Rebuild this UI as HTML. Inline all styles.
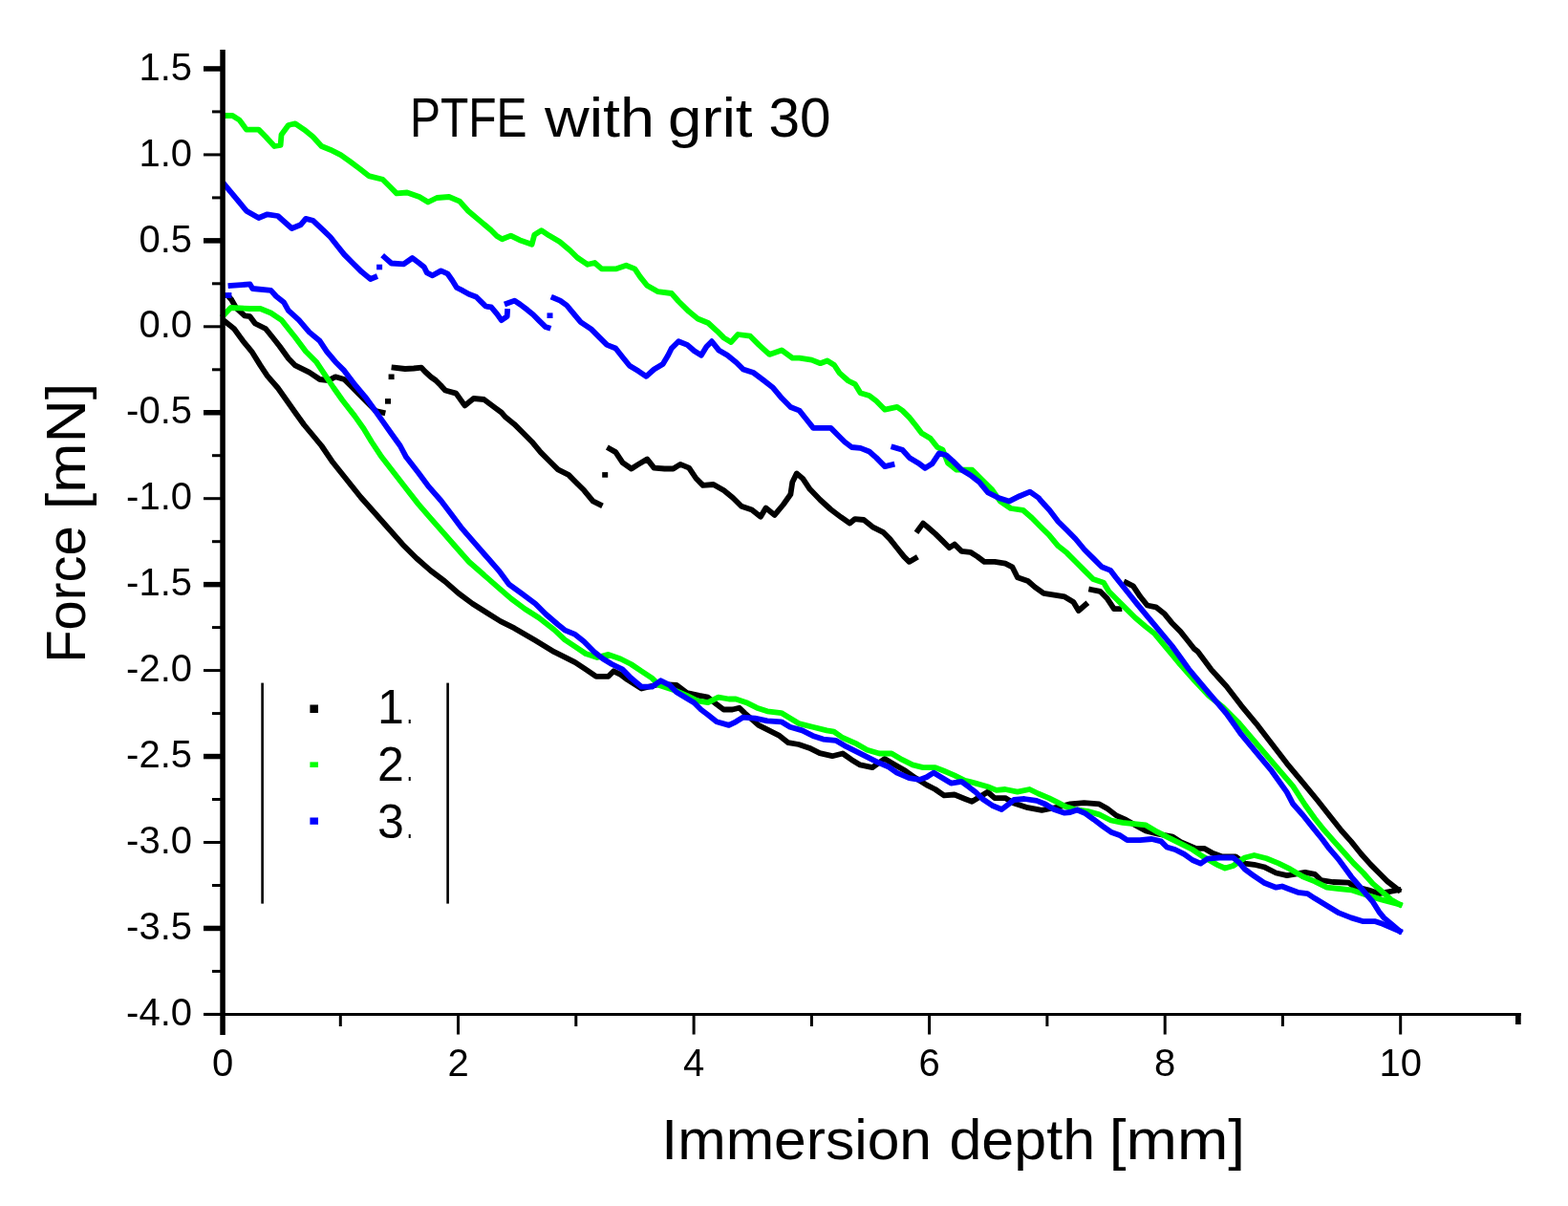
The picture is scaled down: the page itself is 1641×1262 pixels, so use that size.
<!DOCTYPE html><html><head><meta charset="utf-8"><style>html,body{margin:0;padding:0;background:#fff;}svg{display:block;}text{font-family:"Liberation Sans",Arial,sans-serif;fill:#000;}</style></head><body>
<svg width="1641" height="1262" viewBox="0 0 1641 1262">
<rect width="1641" height="1262" fill="#fff"/>
<g>
<polyline points="235.0,336.0 245.0,344.0 254.3,356.8 263.4,367.8 272.5,382.4 279.8,393.3 290.8,406.0 300.0,419.0 309.0,431.7 318.2,444.5 327.4,455.5 336.5,466.5 348.3,483.8 362.9,502.0 377.5,520.3 392.2,536.8 406.8,553.2 421.4,569.7 436.0,584.3 450.7,597.1 465.3,608.1 479.9,620.9 494.5,631.8 509.2,641.0 523.8,650.1 538.4,657.4 560.0,670.0 580.0,682.2 591.0,687.6 601.9,693.1 612.9,700.4 623.9,707.8 636.7,707.8 642.2,702.3 649.5,705.9 656.8,711.4 671.4,720.5 690.0,716.0 708.0,716.9 718.9,725.1 731.7,727.9 740.9,729.7 750.0,737.0 757.3,742.5 766.5,742.5 773.8,740.7 779.3,746.1 793.9,758.9 804.9,764.4 815.8,769.9 825.0,777.2 835.9,779.0 846.9,782.7 857.9,788.2 871.0,791.2 881.9,788.5 891.1,794.9 900.2,800.4 913.0,803.1 925.8,794.0 936.8,800.4 947.8,806.8 958.0,814.0 969.7,821.4 978.8,826.0 988.0,832.4 998.9,831.5 1009.9,836.0 1017.2,838.8 1025.0,834.0 1033.7,828.7 1041.0,835.1 1052.0,835.1 1061.1,840.6 1075.7,845.2 1090.3,847.9 1110.0,844.0 1120.0,841.4 1134.6,840.2 1150.5,841.4 1159.0,846.3 1168.8,853.7 1178.5,858.0 1190.0,864.5 1199.2,869.5 1211.0,872.5 1227.3,875.6 1235.8,881.1 1251.6,887.8 1260.2,887.8 1268.7,892.6 1278.4,896.3 1293.1,896.3 1302.8,903.6 1312.6,904.8 1322.8,907.2 1335.5,913.5 1346.9,916.1 1365.9,912.9 1376.0,914.8 1382.4,921.1 1395.1,923.0 1411.5,923.7 1416.6,927.5 1431.8,931.3 1443.2,935.1 1463.5,931.3" fill="none" stroke="#000" stroke-width="5.8" stroke-linejoin="round" stroke-linecap="square"/>
<polyline points="239.0,310.0 242.4,313.8 247.0,322.0 256.0,330.3 261.6,331.2 267.0,338.5 278.0,344.0 285.3,353.0 292.6,362.3 301.8,375.0 309.0,382.4 323.7,389.7 334.7,397.0 343.8,398.0 351.0,394.3 360.3,397.0 367.6,404.3 375.0,411.6 384.0,420.8 393.2,430.0 400.5,431.7" fill="none" stroke="#000" stroke-width="5.8" stroke-linejoin="round" stroke-linecap="square"/>
<rect x="403.0" y="417.1" width="6" height="5.6" fill="#000"/>
<rect x="406.6" y="391.5" width="6" height="5.6" fill="#000"/>
<polyline points="412.5,384.7 424.0,386.0 433.0,385.5 441.0,384.7 445.0,389.0 451.0,394.5 456.0,398.0 461.0,403.0 466.0,408.5 477.3,411.6 486.4,424.4 495.6,417.0 506.5,418.0 517.5,426.3 524.8,431.7 529.1,436.6 538.3,443.9 547.4,453.0 556.6,462.2 565.7,473.1 574.8,482.3 584.0,491.4 595.0,496.9 602.3,504.2 611.4,513.3 620.5,524.3 627.9,528.0" fill="none" stroke="#000" stroke-width="5.8" stroke-linejoin="round" stroke-linecap="square"/>
<rect x="630.2" y="494.1" width="6" height="5.6" fill="#000"/>
<polyline points="637.9,469.5 644.3,473.1 651.6,484.1 660.8,490.5 668.1,485.9 677.2,480.4 684.5,489.6 695.5,490.5 704.6,490.5 712.0,485.9 721.1,489.6 728.4,500.5 735.7,507.9 746.7,507.0 757.7,513.3 766.8,520.7 775.9,529.8 786.9,533.5 796.0,540.8 801.5,531.6 810.7,538.9 819.8,528.0 827.4,517.3 829.3,504.5 833.8,495.4 840.2,500.9 847.5,511.8 858.3,523.0 869.3,533.0 880.2,541.2 889.4,547.6 894.8,543.1 904.0,544.0 913.1,551.3 924.1,556.8 931.4,564.1 938.7,573.2 946.0,582.4 951.5,587.9 957.9,584.2" fill="none" stroke="#000" stroke-width="5.8" stroke-linejoin="round" stroke-linecap="square"/>
<polyline points="960.7,555.0 966.1,547.6 971.6,552.2 978.9,558.6 986.3,565.9 993.6,573.2 999.0,569.6 1006.4,576.9 1015.5,577.8 1022.8,582.4 1030.1,587.9 1041.1,587.9 1052.1,589.7 1059.4,593.3 1064.9,604.3 1075.8,608.0 1083.1,614.4 1092.3,620.8 1103.3,622.6 1114.2,624.4 1123.4,629.9 1128.8,639.0 1136.2,632.7" fill="none" stroke="#000" stroke-width="5.8" stroke-linejoin="round" stroke-linecap="square"/>
<polyline points="1142.2,617.0 1151.3,618.8 1158.6,626.1 1165.9,637.1 1171.4,637.1" fill="none" stroke="#000" stroke-width="5.8" stroke-linejoin="round" stroke-linecap="square"/>
<polyline points="1178.7,609.7 1186.0,613.3 1193.3,624.3 1200.7,633.5 1209.8,635.3 1218.9,642.6 1226.3,651.7 1235.4,660.9 1242.7,670.0 1250.0,679.2 1253.3,681.6 1267.5,700.6 1283.4,718.0 1299.2,738.6 1315.0,757.6 1330.9,778.2 1346.7,798.8 1362.6,817.8 1378.4,837.0 1393.8,856.5 1403.9,869.2 1414.1,880.6 1424.2,893.2 1434.4,904.6 1444.5,914.8 1452.1,922.4 1463.5,931.3" fill="none" stroke="#000" stroke-width="5.8" stroke-linejoin="round" stroke-linecap="square"/>
<polyline points="234.0,330.0 241.5,322.0 261.6,323.0 272.5,323.0 283.5,327.5 294.5,334.8 301.8,344.0 309.0,353.0 320.0,367.8 331.0,378.7 338.3,389.7 349.3,406.0 358.5,419.0 371.3,435.4 380.4,448.2 389.0,462.5 399.5,478.3 412.3,494.7 425.1,511.2 437.9,527.6 450.7,542.3 463.5,556.9 476.3,571.5 490.9,588.0 505.5,600.8 520.1,613.6 534.8,626.4 549.4,637.3 564.0,646.5 580.0,659.0 591.0,669.4 601.9,676.7 612.9,684.0 625.0,688.0 636.7,684.9 649.5,689.5 660.4,695.0 671.4,702.3 682.4,709.6 689.7,716.9 705.0,722.0 718.9,727.9 729.9,733.3 740.9,735.2 751.8,729.7 762.8,731.5 770.1,731.5 781.1,735.2 792.1,740.7 803.0,744.3 817.7,746.1 826.8,751.6 835.9,757.1 850.6,760.8 865.2,764.4 872.8,765.6 881.9,772.0 896.6,778.4 907.5,784.8 920.3,788.5 933.1,788.5 944.1,794.9 955.1,800.4 966.0,803.1 978.8,803.1 988.0,806.8 998.9,811.4 1009.9,816.8 1020.9,819.6 1033.7,823.2 1042.8,826.9 1052.0,826.0 1064.8,828.7 1077.5,826.0 1086.7,830.5 1097.7,835.1 1106.8,839.7 1115.9,844.3 1125.1,847.0 1137.9,848.8 1150.5,852.4 1162.7,858.5 1174.8,860.9 1187.0,862.2 1199.2,863.4 1211.4,870.7 1223.6,876.8 1235.8,882.9 1248.0,889.0 1258.9,896.3 1273.6,904.8 1282.1,908.5 1290.6,906.0 1302.8,897.5 1312.6,895.0 1325.4,898.3 1338.0,903.4 1350.7,909.7 1363.4,917.3 1376.0,922.4 1388.7,928.7 1401.4,930.0 1414.1,931.3 1421.7,933.8 1433.1,937.6 1445.8,941.4 1464.8,946.5" fill="none" stroke="#0f0" stroke-width="5.8" stroke-linejoin="round" stroke-linecap="square"/>
<polyline points="234.1,121.0 243.3,121.0 250.6,125.6 257.9,135.6 270.7,135.6 278.0,143.0 287.2,153.0 293.6,152.0 294.5,141.0 301.8,131.0 309.0,129.3 318.2,135.6 327.4,143.0 336.5,153.0 345.7,156.7 356.6,162.2 365.8,168.6 376.7,176.8 385.9,184.1 400.5,187.8 407.8,195.0 415.1,202.4 426.1,201.5 438.9,206.0 448.0,211.5 457.2,207.0 470.0,206.0 481.0,210.6 490.0,220.7 502.9,231.6 513.8,240.8 520.0,247.0 525.5,250.3 534.6,246.6 543.8,251.2 556.6,255.8 559.3,245.7 566.6,241.1 574.8,246.6 585.8,253.0 596.8,262.2 604.1,269.5 615.0,276.8 622.4,275.0 629.7,281.4 644.3,281.4 655.3,277.7 664.4,281.4 669.9,289.6 677.2,298.7 688.2,305.1 702.8,307.0 710.1,315.2 721.1,326.1 730.2,333.5 741.2,338.0 750.3,346.3 757.7,353.6 765.0,358.1 772.3,350.0 785.1,351.7 794.2,360.9 805.2,370.9 818.0,366.4 829.3,374.7 836.6,374.7 849.4,376.6 858.5,380.2 865.8,377.5 873.1,382.0 878.6,390.3 887.8,398.5 895.0,402.2 900.5,411.3 909.7,414.0 917.0,419.5 926.1,428.7 938.9,425.9 944.4,429.6 951.7,436.9 959.0,446.0 964.5,453.3 973.7,458.8 981.0,468.0 986.5,470.7 992.0,484.4 1001.1,491.7 1017.5,491.7 1028.5,502.7 1037.7,511.8 1046.8,524.6 1057.8,532.0 1070.6,533.8 1080.0,542.0 1089.1,551.2 1098.3,560.3 1107.4,571.3 1116.6,578.6 1125.7,587.8 1134.8,596.9 1144.0,606.0 1155.0,609.7 1160.4,618.8 1169.6,628.0 1178.7,637.1 1187.9,646.3 1198.8,655.4 1208.0,662.7 1217.1,673.7 1226.3,684.6 1235.4,695.6 1250.0,712.0 1265.0,728.0 1280.0,740.0 1296.0,756.0 1315.0,778.2 1334.0,800.4 1353.1,822.6 1366.0,842.5 1376.0,856.5 1386.2,869.2 1396.3,880.6 1406.5,892.0 1416.6,903.4 1426.8,913.5 1436.9,924.9 1445.8,932.5 1455.9,941.4 1464.8,946.5" fill="none" stroke="#0f0" stroke-width="5.8" stroke-linejoin="round" stroke-linecap="square"/>
<polyline points="241.5,299.0 261.6,297.4 264.3,302.0 283.5,303.8 289.0,310.0 297.2,316.6 301.8,324.8 312.8,334.8 323.7,347.6 334.7,356.8 342.0,367.8 351.1,378.7 360.3,387.9 371.3,402.5 382.2,415.3 391.4,428.0 400.5,440.9 409.6,453.7 418.8,466.5 425.1,478.3 437.9,494.7 448.8,509.4 461.6,524.0 472.6,538.6 483.6,553.2 496.4,567.9 509.2,582.5 522.0,597.1 532.9,611.7 545.7,620.9 560.3,631.8 571.3,642.8 584.1,653.8 591.0,659.3 601.9,663.9 611.1,671.2 622.0,682.2 631.2,689.5 640.3,695.0 651.3,700.4 660.4,709.6 671.4,718.7 682.4,718.7 691.5,712.3 700.7,716.9 708.0,724.2 717.1,729.7 726.3,735.2 733.6,742.5 740.9,748.0 750.0,755.3 762.8,758.9 770.1,755.3 777.4,750.7 790.2,751.6 803.0,754.4 817.7,755.3 826.8,760.8 839.6,764.4 850.6,769.9 861.5,773.6 874.6,774.8 885.6,781.2 896.6,786.7 907.5,792.2 918.5,797.6 929.5,802.2 938.6,808.6 951.4,814.1 962.4,815.9 969.7,813.2 977.0,808.6 986.1,814.1 995.3,819.6 1006.3,817.8 1013.6,823.2 1020.9,828.7 1028.2,836.0 1039.2,843.3 1048.3,847.0 1055.6,841.5 1061.1,837.0 1072.1,836.0 1084.9,837.9 1094.0,841.5 1103.1,847.0 1114.1,850.7 1120.0,850.0 1127.3,847.5 1135.8,851.2 1144.4,857.3 1154.1,864.6 1162.7,870.7 1172.4,874.3 1179.7,879.2 1193.1,879.2 1205.3,878.0 1215.1,880.4 1221.2,886.5 1229.7,889.0 1239.4,893.8 1248.0,900.0 1256.5,903.6 1263.8,898.7 1276.0,897.5 1290.6,897.5 1296.7,902.4 1302.8,909.7 1311.3,915.8 1322.8,923.7 1335.5,928.7 1341.8,927.5 1348.2,930.0 1358.3,933.8 1368.4,935.1 1376.0,940.1 1388.7,947.7 1401.4,955.4 1414.1,960.4 1426.8,964.2 1439.4,964.2 1447.0,966.8 1464.8,974.4" fill="none" stroke="#00f" stroke-width="5.8" stroke-linejoin="round" stroke-linecap="square"/>
<polyline points="234.5,309.0 239.5,309.0" fill="none" stroke="#00f" stroke-width="5.8" stroke-linejoin="round" stroke-linecap="square"/>
<polyline points="235.0,193.2 239.6,198.7 248.8,209.7 257.9,220.7 270.7,228.0 279.8,224.3 290.8,226.0 298.1,232.5 305.4,239.0 314.6,235.3 320.0,228.9 327.4,230.7 338.3,240.8 345.7,248.0 353.0,257.2 360.3,266.4 369.4,275.5 378.6,284.6 387.7,292.0 392.3,290.1" fill="none" stroke="#00f" stroke-width="5.8" stroke-linejoin="round" stroke-linecap="square"/>
<rect x="394.1" y="276.7" width="6" height="5.6" fill="#00f"/>
<polyline points="402.3,269.1 409.6,275.5 422.4,276.4 431.6,270.0 438.9,275.5 443.9,279.5 446.8,285.4 452.7,288.3 461.5,283.4 468.3,286.3 473.2,293.2 478.0,301.0 483.9,303.9 490.7,307.8 498.5,310.7 503.4,315.6 508.3,320.5 514.1,321.4 520.0,328.3 524.8,335.1 530.7,331.2 531.0,326.0" fill="none" stroke="#00f" stroke-width="5.8" stroke-linejoin="round" stroke-linecap="square"/>
<polyline points="530.7,317.5 538.5,314.6 544.3,318.5 552.1,324.4 558.0,329.2 563.8,335.1 570.7,341.9 573.6,342.9" fill="none" stroke="#00f" stroke-width="5.8" stroke-linejoin="round" stroke-linecap="square"/>
<rect x="572.5" y="327.4" width="6" height="5.6" fill="#00f"/>
<polyline points="579.4,311.7 586.3,314.6 593.1,319.5 598.6,326.1 607.8,337.1 618.7,344.4 627.9,353.6 635.2,360.9 644.3,364.5 651.6,373.7 658.9,382.8 668.1,388.3 676.3,393.8 684.5,386.5 693.7,381.0 699.2,371.8 702.8,364.5 710.1,357.2 719.3,360.9 726.6,367.3 733.9,371.8 739.4,362.7 744.9,357.2 752.2,366.4 761.3,371.8 770.5,379.2 777.8,386.5 788.7,390.1 799.7,398.4 809.1,405.8 818.3,416.8 827.4,426.0 836.6,429.6 843.9,438.7 851.2,447.9 860.3,447.9 869.5,447.9 876.8,455.2 884.1,462.5 891.4,468.0 900.5,468.9 909.7,472.5 917.0,478.9 926.1,488.1 933.5,486.3" fill="none" stroke="#00f" stroke-width="5.8" stroke-linejoin="round" stroke-linecap="square"/>
<polyline points="935.3,468.0 944.4,470.7 951.7,478.9 960.9,484.4 968.2,489.9 975.5,485.3 982.8,474.4 990.1,476.2 997.4,482.6 1006.6,491.7 1015.7,497.2 1024.9,504.5 1034.0,515.5 1045.0,521.0 1056.0,524.6 1066.9,519.2 1077.9,514.6 1087.0,521.0 1089.1,523.8 1098.3,533.8 1107.4,545.7 1116.6,554.8 1125.7,564.0 1134.8,575.0 1144.0,584.1 1153.1,593.2 1162.3,596.9 1167.8,604.2 1175.0,613.3 1182.4,622.5 1189.7,631.6 1198.8,642.6 1208.0,653.6 1217.1,664.5 1226.3,675.5 1235.4,688.0 1244.0,700.0 1264.4,724.4 1283.4,746.5 1299.2,768.7 1315.0,787.7 1330.9,806.7 1346.7,828.9 1353.2,841.3 1363.4,852.7 1373.5,865.4 1383.7,878.0 1391.3,888.2 1400.1,898.3 1407.7,908.4 1414.1,917.3 1421.7,926.2 1429.3,935.1 1436.9,943.9 1443.2,954.1 1448.3,960.4 1455.9,966.8 1464.8,974.4" fill="none" stroke="#00f" stroke-width="5.8" stroke-linejoin="round" stroke-linecap="square"/>
</g>
<g fill="#000">
<rect x="230.3" y="52" width="5.5" height="1031"/>
<rect x="213" y="1060" width="1378.7" height="3"/>
<rect x="213" y="69.2" width="20" height="5.5"/>
<rect x="222" y="115.4" width="11" height="3"/>
<rect x="213" y="160.4" width="20" height="3"/>
<rect x="222" y="205.4" width="11" height="3"/>
<rect x="213" y="249.1" width="20" height="5.5"/>
<rect x="222" y="295.3" width="11" height="3"/>
<rect x="213" y="340.3" width="20" height="3"/>
<rect x="222" y="385.3" width="11" height="3"/>
<rect x="213" y="429.0" width="20" height="5.5"/>
<rect x="222" y="475.2" width="11" height="3"/>
<rect x="213" y="520.2" width="20" height="3"/>
<rect x="222" y="565.2" width="11" height="3"/>
<rect x="213" y="608.9" width="20" height="5.5"/>
<rect x="222" y="655.1" width="11" height="3"/>
<rect x="213" y="700.1" width="20" height="3"/>
<rect x="222" y="745.1" width="11" height="3"/>
<rect x="213" y="788.8" width="20" height="5.5"/>
<rect x="222" y="835.0" width="11" height="3"/>
<rect x="213" y="880.0" width="20" height="3"/>
<rect x="222" y="925.0" width="11" height="3"/>
<rect x="213" y="968.7" width="20" height="5.5"/>
<rect x="222" y="1014.9" width="11" height="3"/>
<rect x="213" y="1059.9" width="20" height="3"/>
<rect x="231.5" y="1061" width="3" height="21.5"/>
<rect x="354.8" y="1061" width="3" height="13"/>
<rect x="478.0" y="1061" width="3" height="21.5"/>
<rect x="601.3" y="1061" width="3" height="13"/>
<rect x="724.6" y="1061" width="3" height="21.5"/>
<rect x="847.9" y="1061" width="3" height="13"/>
<rect x="971.1" y="1061" width="3" height="21.5"/>
<rect x="1094.4" y="1061" width="3" height="13"/>
<rect x="1217.7" y="1061" width="3" height="21.5"/>
<rect x="1340.9" y="1061" width="3" height="13"/>
<rect x="1464.2" y="1061" width="3" height="21.5"/>
<rect x="1586" y="1060" width="5.7" height="12"/>
</g>
<text x="201" y="83.5" font-size="40" text-anchor="end">1.5</text>
<text x="201" y="173.5" font-size="40" text-anchor="end">1.0</text>
<text x="201" y="263.5" font-size="40" text-anchor="end">0.5</text>
<text x="201" y="353.4" font-size="40" text-anchor="end">0.0</text>
<text x="201" y="443.4" font-size="40" text-anchor="end">-0.5</text>
<text x="201" y="533.3" font-size="40" text-anchor="end">-1.0</text>
<text x="201" y="623.3" font-size="40" text-anchor="end">-1.5</text>
<text x="201" y="713.2" font-size="40" text-anchor="end">-2.0</text>
<text x="201" y="803.1" font-size="40" text-anchor="end">-2.5</text>
<text x="201" y="893.1" font-size="40" text-anchor="end">-3.0</text>
<text x="201" y="983.1" font-size="40" text-anchor="end">-3.5</text>
<text x="201" y="1073.0" font-size="40" text-anchor="end">-4.0</text>
<text x="233.0" y="1125.5" font-size="40" text-anchor="middle">0</text>
<text x="479.5" y="1125.5" font-size="40" text-anchor="middle">2</text>
<text x="726.1" y="1125.5" font-size="40" text-anchor="middle">4</text>
<text x="972.6" y="1125.5" font-size="40" text-anchor="middle">6</text>
<text x="1219.2" y="1125.5" font-size="40" text-anchor="middle">8</text>
<text x="1465.7" y="1125.5" font-size="40" text-anchor="middle">10</text>
<text x="428.96" y="143.3" font-size="57" textLength="122.57" lengthAdjust="spacingAndGlyphs">PTFE</text>
<text x="570.00" y="143.3" font-size="57" textLength="115.00" lengthAdjust="spacingAndGlyphs">with</text>
<text x="699.02" y="143.3" font-size="57" textLength="88.47" lengthAdjust="spacingAndGlyphs">grit</text>
<text x="804.46" y="143.3" font-size="57" textLength="65.10" lengthAdjust="spacingAndGlyphs">30</text>
<text x="692.39" y="1212.8" font-size="59" textLength="282.69" lengthAdjust="spacingAndGlyphs">Immersion</text>
<text x="993.45" y="1212.8" font-size="59" textLength="152.62" lengthAdjust="spacingAndGlyphs">depth</text>
<text x="1160.81" y="1212.8" font-size="59" textLength="142.37" lengthAdjust="spacingAndGlyphs">[mm]</text>
<text transform="translate(88.5,693.60) rotate(-90)" x="0" y="0" font-size="57" textLength="143.16" lengthAdjust="spacingAndGlyphs">Force</text>
<text transform="translate(88.5,533.20) rotate(-90)" x="0" y="0" font-size="57" textLength="132.40" lengthAdjust="spacingAndGlyphs">[mN]</text>
<rect x="273.3" y="714.6" width="2.6" height="231" fill="#000"/>
<rect x="467.3" y="714.6" width="2.6" height="231" fill="#000"/>
<rect x="324.4" y="737.5" width="8.6" height="8.5" fill="#000"/>
<rect x="324.4" y="797.4" width="8.6" height="5.6" fill="#0f0"/>
<rect x="324.4" y="855.5" width="8.6" height="7.3" fill="#00f"/>
<text x="395" y="757.4" font-size="50">1<tspan dx="3" font-size="36" textLength="6" lengthAdjust="spacingAndGlyphs">.</tspan></text>
<text x="395" y="817.3" font-size="50">2<tspan dx="3" font-size="36" textLength="6" lengthAdjust="spacingAndGlyphs">.</tspan></text>
<text x="395" y="877.2" font-size="50">3<tspan dx="3" font-size="36" textLength="6" lengthAdjust="spacingAndGlyphs">.</tspan></text>
</svg></body></html>
